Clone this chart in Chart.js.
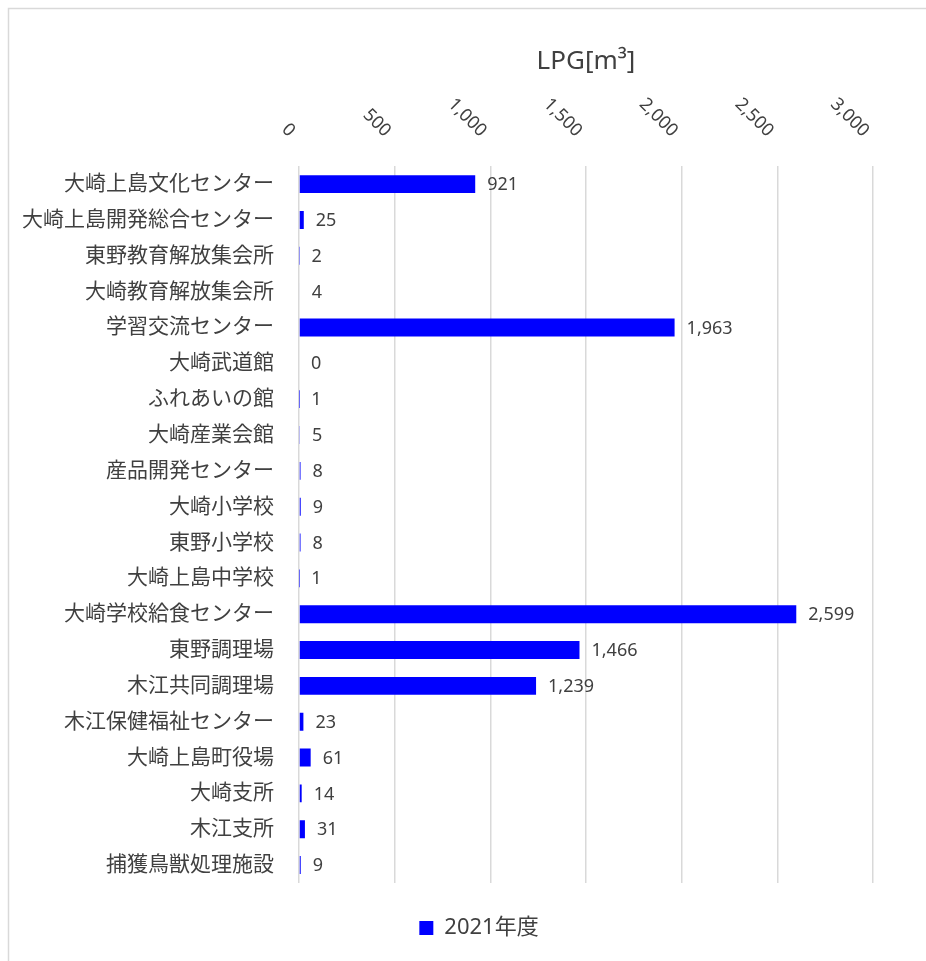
<!DOCTYPE html>
<html>
<head>
<meta charset="utf-8">
<script src="https://cdn.jsdelivr.net/npm/chart.js@4"></script>
<style>
  html, body { margin: 0; padding: 0; background: #ffffff; }
  #wrap { position: relative; width: 926px; height: 961px; }
</style>
</head>
<body>
<div id="wrap"><canvas id="c"></canvas></div>
<script>
const categories = [
  '大崎上島文化センター', '大崎上島開発総合センター', '東野教育解放集会所', '大崎教育解放集会所',
  '学習交流センター', '大崎武道館', 'ふれあいの館', '大崎産業会館', '産品開発センター',
  '大崎小学校', '東野小学校', '大崎上島中学校', '大崎学校給食センター', '東野調理場',
  '木江共同調理場', '木江保健福祉センター', '大崎上島町役場', '大崎支所', '木江支所',
  '捕獲鳥獣処理施設'
];
const values2021 = [921, 25, 2, 4, 1963, 0, 1, 5, 8, 9, 8, 1, 2599, 1466, 1239, 23, 61, 14, 31, 9];
const xTickValues = [0, 500, 1000, 1500, 2000, 2500, 3000];
const seriesName = '2021年度';
const axisTitle = 'LPG[m³]';

const FONT = "'Noto Sans', 'Noto Sans CJK JP', sans-serif";
const TEXT = '#404040';
const fmt = v => v.toLocaleString('en-US');

const bgPlugin = {
  id: 'bg',
  beforeDraw(chart) {
    const ctx = chart.ctx;
    ctx.save();
    ctx.fillStyle = '#ffffff';
    ctx.fillRect(0, 0, chart.width, chart.height);
    ctx.strokeStyle = '#d9d9d9';
    ctx.lineWidth = 1.5;
    ctx.strokeRect(8.5, 8.5, chart.width + 20, chart.height + 20);
    ctx.restore();
    // centre the legend under the whole figure body
    if (chart.legend) {
      chart.legend.left = 85;
      chart.legend.right = 873;
    }
  }
};

const tickLabelPlugin = {
  id: 'rotTicks',
  afterDraw(chart) {
    const sc = chart.scales.x;
    const ctx = chart.ctx;
    ctx.save();
    ctx.font = '18px ' + FONT;
    ctx.fillStyle = TEXT;
    ctx.textAlign = 'right';
    ctx.textBaseline = 'middle';
    sc.ticks.forEach(t => {
      const x = sc.getPixelForValue(t.value);
      ctx.save();
      ctx.translate(x - 7, 134);
      ctx.rotate(Math.PI / 4);
      ctx.fillText(fmt(t.value), 0, 0);
      ctx.restore();
    });
    ctx.restore();
  }
};

const dataLabelPlugin = {
  id: 'dataLabels',
  afterDatasetsDraw(chart) {
    const ctx = chart.ctx;
    const meta = chart.getDatasetMeta(0);
    const data = chart.data.datasets[0].data;
    ctx.save();
    ctx.font = '18px ' + FONT;
    ctx.fillStyle = TEXT;
    ctx.textAlign = 'left';
    ctx.textBaseline = 'middle';
    meta.data.forEach((bar, i) => {
      ctx.fillText(fmt(data[i]), bar.x + 12, bar.y + 1);
    });
    ctx.restore();
  }
};

new Chart(document.getElementById('c'), {
  type: 'bar',
  data: {
    labels: categories,
    datasets: [{
      label: seriesName,
      data: values2021,
      backgroundColor: '#0000ff',
      borderWidth: 0,
      barPercentage: 0.5,
      categoryPercentage: 1.0
    }]
  },
  plugins: [bgPlugin, tickLabelPlugin, dataLabelPlugin],
  options: {
    indexAxis: 'y',
    responsive: true,
    maintainAspectRatio: false,
    animation: false,
    devicePixelRatio: 1,
    layout: { padding: { left: 10, right: 53, top: 10, bottom: 12 } },
    font: { family: FONT },
    scales: {
      x: {
        position: 'top',
        min: 0,
        max: 3000,
        afterBuildTicks(scale) {
          scale.ticks = xTickValues.map(v => ({ value: v }));
        },
        ticks: { display: false },
        grid: { color: '#d9d9d9', lineWidth: 1.5, drawTicks: false },
        border: { display: false },
        title: {
          display: true,
          text: axisTitle,
          color: TEXT,
          font: { family: FONT, size: 26 },
          padding: { top: 36, bottom: 89 }
        }
      },
      y: {
        afterFit(scale) { scale.width = 299 - 10; },
        grid: { display: false, drawTicks: false },
        border: { display: false },
        ticks: {
          autoSkip: false,
          color: TEXT,
          font: { family: FONT, size: 21 },
          padding: 25
        }
      }
    },
    plugins: {
      title: { display: false },
      tooltip: { enabled: false },
      legend: {
        display: true,
        position: 'bottom',
        labels: {
          color: TEXT,
          font: { family: FONT, size: 22 },
          boxWidth: 14,
          boxHeight: 14,
          padding: 34
        }
      }
    }
  }
});
</script>
</body>
</html>
